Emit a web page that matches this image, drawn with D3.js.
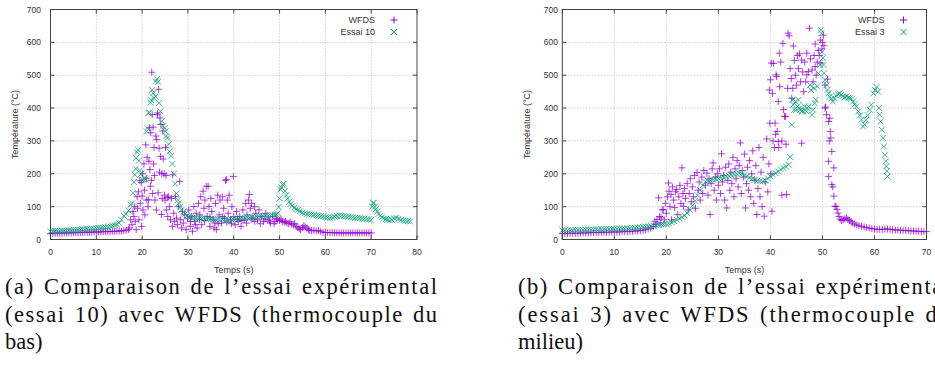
<!DOCTYPE html>
<html lang="fr">
<head>
<meta charset="UTF-8" />
<title>Comparaison WFDS / essais</title>
<script src="https://d3js.org/d3.v7.min.js"></script>
<style>
  body { margin: 0; background: #fff; overflow: hidden; }
  svg { display: block; }
  .tick-label { font-family: "Liberation Sans Narrow", "Liberation Sans", sans-serif; font-size: 8.5px; fill: #333; }
  .axis-label, .legend-label { font-family: "Liberation Sans", Arial, sans-serif; font-size: 9px; fill: #333; }
  .caption { font-family: "Liberation Serif", "DejaVu Serif", serif; font-size: 22.5px; fill: #111; }
</style>
</head>
<body>
<svg id="fig" width="935" height="375"></svg>
<script>
// ---- data: [time (s), temperature (°C)]
const xTicksA = [0, 10, 20, 30, 40, 50, 60, 70, 80];
const xTicksB = [0, 10, 20, 30, 40, 50, 60, 70];
const yTicks = [0, 100, 200, 300, 400, 500, 600, 700];

// (a) WFDS, thermocouple du bas
const wfdsA = [
  [0,18],[0.5,18],[1,19],[1.5,19],[2,19],[2.5,19],[3,20],[3.5,20],[4,20],[4.5,20],[5,21],[5.5,21],[6,21],[6.5,21],
  [7,22],[7.5,22],[8,22],[8.5,22],[9,22],[9.5,23],[10,23],[10.5,23],[11,23],[11.5,24],[12,24],[12.5,24],[13,24],
  [13.5,25],[14,25],[14.5,25],[15,26],[15.5,26],[16,27],[16.5,28],[17,30],
  [17.2,35],[17.5,60],[17.8,45],[18,85],[18.2,70],[18.4,100],[18.5,55],[18.7,30],[18.9,130],[19,95],[19.2,145],
  [19.3,60],[19.5,180],[19.6,110],[19.8,173],[19.9,40],[20,132],[20.1,200],[20.2,90],[20.4,230],[20.5,150],
  [20.6,75],[20.8,288],[20.9,185],[21,120],[21.1,250],[21.3,100],[21.4,121],[21.5,238],[21.6,340],[21.7,213],
  [21.8,162],[21.9,325],[22,180],[22.1,509],[22.2,380],[22.3,140],[22.4,342],[22.5,230],[22.6,280],[22.7,195],
  [22.8,120],[23,315],[23.1,90],[23.2,304],[23.3,380],[23.4,385],[23.5,142],[23.6,457],[23.7,278],[23.8,205],
  [23.9,370],[24,253],[24.1,350],[24.2,76],[24.3,200],[24.4,125],[24.5,330],[24.6,245],[24.8,200],[24.9,135],
  [25,120],[25.1,280],[25.2,195],[25.3,90],[25.5,128],[25.6,70],[25.8,130],[26,100],[26.2,60],[26.4,125],
  [26.6,40],[26.7,197],[26.9,80],[27.1,55],[27.3,130],[27.5,65],[27.7,45],[27.9,100],[28.2,177],[28.4,60],
  [28.6,35],[28.8,85],[29,50],[29.3,75],[29.6,30],[29.9,65],
  [30.2,90],[30.5,40],[30.8,70],[31,25],[31.3,100],[31.5,55],[31.8,80],[32,35],[32.3,110],[32.5,60],[32.8,130],
  [33,45],[33.3,147],[33.5,95],[33.7,120],[34,162],[34.2,70],[34.4,162],[34.6,100],[34.8,40],[35,125],[35.2,85],
  [35.5,60],[35.7,35],[36,110],[36.2,30],[36.5,135],[36.8,75],[37,120],[37.3,50],[37.5,130],[37.8,95],[38,65],
  [38.2,180],[38.4,182],[38.6,120],[38.8,80],[39,135],[39.3,60],[39.6,100],[39.9,192],[40,70],[40.3,45],
  [40.6,85],[41,55],[41.3,70],[41.6,40],[42,90],[42.3,60],[42.6,110],[42.9,75],[43.2,120],[43.4,137],[43.6,95],
  [43.9,110],[44.2,65],[44.5,100],[44.8,80],[45.2,60],[45.5,90],[46,70],[46.5,55],[47,80],[47.5,60],[48,50],
  [48.5,70],[49,55],[49.5,60],
  [30.6,55],[31.6,45],[32.6,75],[33.6,58],[34.8,68],[35.9,50],[36.6,48],[37.6,70],[38.5,52],[39.5,48],[40.8,62],
  [41.8,58],[42.8,50],[43.8,62],[44.6,55],[45.8,48],[46.8,62],[47.8,56],[48.8,48],[49.3,64],
  [50,58],[50.3,62],[50.6,55],[51,52],[51.3,56],[51.6,50],[52,48],[52.3,54],[52.6,47],[53,44],[53.3,48],
  [53.6,40],[54,36],[54.3,32],[54.6,30],[55,36],[55.3,42],[55.6,38],[56,34],[56.3,30],[56.6,28],[57,27],
  [57.5,28],[58,26],[58.5,27],[59,25],[59.5,22],[60,21],[60.5,21],[61,21],[61.5,21],[62,21],[62.5,20],[63,20],
  [63.5,20],[64,20],[64.5,20],[65,20],[65.5,20],[66,20],[66.5,20],[67,20],[67.5,20],[68,20],[68.5,20],[69,20],
  [69.5,20],[70,20]
];

// (a) Essai 10
const essai10 = [
  [0,25],[0.5,25],[1,26],[1.5,26],[2,26],[2.5,27],[3,27],[3.5,27],[4,28],[4.5,28],[5,29],[5.5,29],[6,30],[6.5,30],
  [7,31],[7.5,31],[8,32],[8.5,32],[9,33],[9.5,33],[10,34],[10.5,35],[11,35],[11.5,36],[12,37],[12.5,38],[13,40],
  [13.5,42],[14,44],[14.5,46],[15,50],[15.5,60],[16,72],[16.5,78],[17,88],[17.5,106],[17.8,110],[18,142],
  [18.2,175],[18.4,197],[18.6,215],[18.7,248],[18.9,265],[19.1,273],[19.3,240],[19.5,210],[19.8,200],[20.2,182],
  [20.5,187],[20.7,182],[21,329],[21.2,339],[21.4,385],[21.6,387],[21.8,417],[21.9,425],[22.2,455],[22.4,445],
  [22.6,430],[22.9,435],[23,481],[23.3,489],[23.5,480],[23.7,416],[24,390],[24.3,360],[24.6,345],[24.9,339],
  [25.1,329],[25.3,315],[25.5,309],[25.8,290],[26,268],[26.3,255],[26.6,230],[26.9,200],[27.2,170],[27.5,140],
  [27.8,120],[28,110],[28.3,100],[28.6,90],[29,85],[29.4,78],[29.8,72],[30.2,70],[30.6,68],[31,66],[31.5,66],
  [32,65],[32.5,65],[33,64],[33.5,64],[34,63],[34.5,63],[35,63],[35.5,62],[36,62],[36.5,62],[37,61],[37.5,61],
  [38,60],[38.5,60],[39,60],[39.5,60],[40,61],[40.5,62],[41,63],[41.5,64],[42,64],[42.5,65],[43,66],[43.5,67],
  [44,68],[44.5,68],[45,69],[45.5,70],[46,70],[46.5,71],[47,72],[47.5,72],[48,73],[48.5,74],[49,75],[49.3,76],
  [49.6,80],[49.8,99],[50,125],[50.2,152],[50.4,158],[50.7,167],[50.9,170],[51.2,148],[51.5,135],[51.8,125],
  [52.1,115],[52.4,108],[52.8,102],[53.2,97],[53.6,92],[54,90],[54.5,86],[55,82],[55.5,80],[56,78],[56.5,77],
  [57,76],[57.5,75],[58,73],[58.5,72],[59,71],[59.5,70],[60,68],[60.5,67],[61,66],[61.5,67],[62,70],[62.5,72],
  [63,73],[63.5,72],[64,71],[64.5,70],[65,69],[65.5,68],[66,67],[66.5,66],[67,66],[67.5,65],[68,64],[68.5,63],
  [69,62],[69.5,61],[70,60],[70.2,100],[70.4,112],[70.6,110],[70.8,100],[71,92],[71.3,85],[71.6,78],[72,72],
  [72.4,68],[72.8,64],[73.2,62],[73.6,60],[74,59],[74.5,60],[75,64],[75.5,66],[76,63],[76.5,60],[77,58],
  [77.5,57],[78,56],[78.5,55]
];

// (b) WFDS, thermocouple du milieu
const wfdsB = [
  [0,18],[0.5,18],[1,18],[1.5,19],[2,19],[2.5,19],[3,19],[3.5,20],[4,20],[4.5,20],[5,20],[5.5,21],[6,21],[6.5,21],
  [7,21],[7.5,22],[8,22],[8.5,22],[9,22],[9.5,23],[10,23],[10.5,23],[11,23],[11.5,24],[12,24],[12.5,24],[13,25],
  [13.5,25],[14,26],[14.5,26],[15,27],[15.5,28],[16,30],[16.5,32],[17,34],
  [17.5,40],[17.8,55],[18,45],[18.2,61],[18.5,127],[18.7,70],[18.8,50],[19,66],[19.2,90],[19.4,91],[19.6,60],
  [19.8,110],[20,80],[20.2,130],[20.4,172],[20.5,147],[20.7,100],[20.9,137],[21,60],[21.2,160],[21.4,120],
  [21.6,97],[21.8,145],[22,152],[22.2,76],[22.4,130],[22.6,165],[22.8,110],[23,218],[23.2,140],[23.3,101],
  [23.5,155],[23.7,125],[24,170],[24.2,90],[24.4,140],[24.6,185],[24.8,115],[25,160],[25.2,130],[25.4,195],
  [25.6,95],[25.9,204],[26.1,150],[26.3,175],[26.5,120],[26.8,190],[27,140],[27.2,210],[27.5,165],[27.8,202],
  [28,135],[28.2,185],[28.4,76],[28.6,170],[28.8,215],[29,233],[29.2,150],[29.4,190],[29.6,120],[29.8,200],
  [30,165],[30.2,215],[30.4,140],[30.6,261],[30.8,175],[31,195],[31.2,120],[31.4,220],[31.6,96],[31.8,180],
  [32,230],[32.2,150],[32.4,205],[32.6,170],[32.8,250],[33,130],[33.2,215],[33.4,185],[33.6,240],[33.8,160],
  [34,225],[34.2,294],[34.4,140],[34.6,210],[34.8,190],[35,260],[35.2,96],[35.4,170],[35.6,220],[35.8,150],
  [36,240],[36.2,130],[36.4,200],[36.6,270],[36.8,110],[37,180],[37.2,225],[37.4,76],[37.6,155],[37.8,280],
  [38,130],[38.2,205],[38.4,100],[38.6,250],[38.8,71],[39,175],[39.3,306],[39.5,145],[39.7,230],
  [39.8,455],[39.9,354],[40,486],[40.1,200],[40.2,537],[40.3,86],[40.4,445],[40.5,300],[40.6,536],[40.8,280],
  [40.9,354],[41,320],[41.1,501],[41.2,496],[41.3,329],[41.5,298],[41.5,420],[41.6,280],[41.7,567],[41.8,465],
  [42,540],[42.2,135],[42.2,300],[42.4,597],[42.5,395],[42.7,375],[42.9,374],[43,290],[43.1,137],[43.3,460],
  [43.4,628],[43.6,620],[43.8,520],[44,490],[44.1,430],[44.3,460],[44.4,589],[44.6,545],[44.8,500],[45,470],
  [45.2,560],[45.4,520],[45.6,565],[45.8,480],[46,546],[46,293],[46.2,510],[46.4,450],[46.6,540],[46.8,480],
  [47,567],[47,501],[47.3,511],[47.5,643],[47.7,550],[48,516],[48.2,480],[48.4,560],[48.6,526],[48.6,595],
  [48.8,500],[49,540],[49.2,575],[49.4,560],[49.6,607],[49.7,537],[49.9,580],[50,600],[50.2,622],[50.3,590],
  [50.5,470],[50.5,400],[50.6,403],[50.8,380],[51,488],[51.2,359],[51.2,238],[51.2,192],[51.3,300],[51.4,369],
  [51.5,329],[51.6,309],[51.8,268],[51.8,167],[52,160],[52.2,218],[52.2,132],[52.4,101],
  [52.6,101],[52.8,92],[53,80],[53.2,70],[53.4,62],[53.7,58],[54,60],[54.3,63],[54.6,66],[54.9,62],[55.2,58],
  [55.5,54],[55.8,50],[56.2,47],[56.6,44],[57,42],[57.5,40],[58,38],[58.5,36],[59,35],[59.5,33],[60,32],
  [60.5,31],[61,31],[61.5,31],[62,32],[62.5,32],[63,31],[63.5,30],[64,29],[64.5,29],[65,28],[65.5,28],[66,27],
  [66.5,27],[67,26],[67.5,26],[68,25],[68.5,25],[69,24],[69.5,24],[70,24]
];

// (b) Essai 3
const essai3 = [
  [0,28],[0.5,28],[1,28],[1.5,28],[2,28],[2.5,29],[3,29],[3.5,29],[4,29],[4.5,30],[5,30],[5.5,30],[6,30],[6.5,31],
  [7,31],[7.5,31],[8,31],[8.5,32],[9,32],[9.5,32],[10,32],[10.5,33],[11,33],[11.5,33],[12,33],[12.5,34],[13,34],
  [13.5,35],[14,35],[14.5,36],[15,37],[15.5,38],[16,39],[16.5,40],[17,41],[17.5,42],[18,43],[18.5,44],[19,45],
  [19.5,46],[20,47],[20.5,49],[21,52],[21.5,56],[22,60],[22.5,64],[23,68],[23.5,73],[24,80],[24.5,90],[25,103],
  [25.5,118],[26,135],[26.5,150],[27,165],[27.5,175],[28,178],[28.5,180],[29,182],[29.5,184],[30,186],[30.5,188],
  [31,190],[31.5,192],[32,194],[32.5,196],[33,198],[33.5,200],[34,202],[34.5,200],[35,196],[35.5,192],[36,188],
  [36.5,185],[37,182],[37.5,179],[38,177],[38.5,177],[39,180],[39.5,186],[40,192],[40.5,197],[41,202],[41.5,207],
  [42,213],[42.5,218],[43,222],[43.5,228],[43.8,251],
  [44.1,349],[44.2,425],[44.4,410],[44.6,395],[44.8,420],[45,395],[45.2,405],[45.4,425],[45.6,400],[45.8,395],
  [46,390],[46.3,390],[46.6,405],[46.9,390],[47.1,400],[47.3,405],[47.6,470],[47.8,455],[48,380],[48.2,395],
  [48.4,460],[48.5,415],[48.7,425],[49,466],[49.2,506],[49.5,531],[49.7,638],[49.8,628],[49.9,570],[50.1,552],
  [50.2,531],[50.3,506],[50.5,486],[50.8,470],[51,455],[51.2,445],[51.4,435],[51.7,428],[52,420],[52.3,430],
  [52.6,438],[53,442],[53.3,445],[53.6,440],[54,436],[54.3,433],[54.6,435],[55,432],[55.3,430],[55.6,428],
  [55.9,420],[56.2,412],[56.5,405],[56.9,390],[57.2,378],[57.5,364],[57.8,344],[58.1,350],[58.4,364],[58.7,378],
  [59.1,395],[59.4,410],[59.8,445],[60.1,455],[60.4,464],[60.7,450],[60.9,400],[61,380],[61.2,359],[61.4,334],
  [61.6,309],[61.8,283],[62,258],[62.2,238],[62.3,223],[62.4,208],[62.5,192]
];

const captionA = ["(a) Comparaison de l\u2019essai exp\u00e9rimental", "(essai 10) avec WFDS (thermocouple du", "bas)"];
const captionB = ["(b) Comparaison de l\u2019essai exp\u00e9rimental", "(essai 3) avec WFDS (thermocouple du", "milieu)"];

const purple = "#9400d3";
const green = "#009e73";

const svg = d3.select("#fig");

function drawPanel(opt) {
  const x = d3.scaleLinear().domain(opt.xDomain).range(opt.xRange);
  const y = d3.scaleLinear().domain([0, 700]).range([239.5, 9.5]);
  const g = svg.append("g");
  const [x0, x1] = opt.xRange;
  const [yb, yt] = [y(0), y(700)];

  // dotted grid
  g.selectAll(".vgrid").data(opt.xTicks.slice(1, -1)).join("line")
    .attr("x1", d => x(d)).attr("x2", d => x(d)).attr("y1", yt).attr("y2", yb)
    .attr("stroke", "#b8b8b8").attr("stroke-dasharray", "1,2");
  g.selectAll(".hgrid").data(yTicks.slice(1, -1)).join("line")
    .attr("x1", x0).attr("x2", x1).attr("y1", d => y(d)).attr("y2", d => y(d))
    .attr("stroke", "#b8b8b8").attr("stroke-dasharray", "1,2");

  // points: "+" for WFDS, "x" for the test
  g.append("g").selectAll("path").data(opt.sim).join("path")
    .attr("d", d => `M${x(d[0]) - 3.5},${y(d[1])}h7M${x(d[0])},${y(d[1]) - 3.5}v7`)
    .attr("stroke", purple).attr("stroke-width", 1).attr("stroke-opacity", 0.75).attr("fill", "none");
  g.append("g").selectAll("path").data(opt.exp).join("path")
    .attr("d", d => `M${x(d[0]) - 3},${y(d[1]) - 3}l6,6M${x(d[0]) - 3},${y(d[1]) + 3}l6,-6`)
    .attr("stroke", green).attr("stroke-width", 1).attr("stroke-opacity", 0.75).attr("fill", "none");

  // ticks (inside, mirrored)
  const tk = 4;
  opt.xTicks.forEach(d => {
    g.append("line").attr("x1", x(d)).attr("x2", x(d)).attr("y1", yb).attr("y2", yb - tk).attr("stroke", "#444");
    g.append("line").attr("x1", x(d)).attr("x2", x(d)).attr("y1", yt).attr("y2", yt + tk).attr("stroke", "#444");
  });
  yTicks.forEach(d => {
    g.append("line").attr("x1", x0).attr("x2", x0 + tk).attr("y1", y(d)).attr("y2", y(d)).attr("stroke", "#444");
    g.append("line").attr("x1", x1).attr("x2", x1 - tk).attr("y1", y(d)).attr("y2", y(d)).attr("stroke", "#444");
  });
  g.append("rect").attr("x", x0).attr("y", yt).attr("width", x1 - x0).attr("height", yb - yt)
    .attr("fill", "none").attr("stroke", "#444").attr("stroke-width", 1);

  // tick labels
  g.selectAll(".xl").data(opt.xTicks).join("text").attr("class", "tick-label")
    .attr("x", d => x(d)).attr("y", 255).attr("text-anchor", "middle").text(d => d);
  g.selectAll(".yl").data(yTicks).join("text").attr("class", "tick-label")
    .attr("x", opt.yLabelX).attr("y", d => y(d) + 3).attr("text-anchor", "end").text(d => d);

  // axis titles
  g.append("text").attr("class", "axis-label").attr("x", (x0 + x1) / 2).attr("y", 273)
    .attr("text-anchor", "middle").text("Temps (s)");
  g.append("text").attr("class", "axis-label")
    .attr("transform", `translate(${opt.yTitleX},${(yb + yt) / 2}) rotate(-90)`)
    .attr("text-anchor", "middle").text("Température (°C)");

  // key
  const key = [["WFDS", "plus"], [opt.expName, "x"]];
  key.forEach((k, i) => {
    const ky = 20 + i * 12;
    g.append("text").attr("class", "legend-label").attr("x", x1 - 42).attr("y", ky + 3)
      .attr("text-anchor", "end").text(k[0]);
    const mx = x1 - 23;
    g.append("path")
      .attr("d", k[1] === "plus" ? `M${mx - 3.5},${ky}h7M${mx},${ky - 3.5}v7`
                                 : `M${mx - 3},${ky - 3}l6,6M${mx - 3},${ky + 3}l6,-6`)
      .attr("stroke", k[1] === "plus" ? purple : green).attr("fill", "none");
  });

  // caption, justified to the column width (words a bit apart, letters spread)
  opt.caption.forEach((line, i) => {
    const t = svg.append("text").attr("class", "caption")
      .attr("x", opt.capX).attr("y", 294 + i * 27.5).text(line);
    if (i < opt.caption.length - 1) {
      t.attr("word-spacing", 2);
      const natural = t.node().getComputedTextLength();
      t.attr("letter-spacing", Math.max(0, (432 - natural) / (line.length - 1)));
    }
  });
}

drawPanel({
  xDomain: [0, 80], xRange: [50.5, 417], xTicks: xTicksA,
  sim: wfdsA, exp: essai10, expName: "Essai 10",
  yLabelX: 41, yTitleX: 18, caption: captionA, capX: 5
});
drawPanel({
  xDomain: [0, 70], xRange: [562.3, 926.5], xTicks: xTicksB,
  sim: wfdsB, exp: essai3, expName: "Essai 3",
  yLabelX: 558, yTitleX: 530, caption: captionB, capX: 518
});
</script>
</body>
</html>
